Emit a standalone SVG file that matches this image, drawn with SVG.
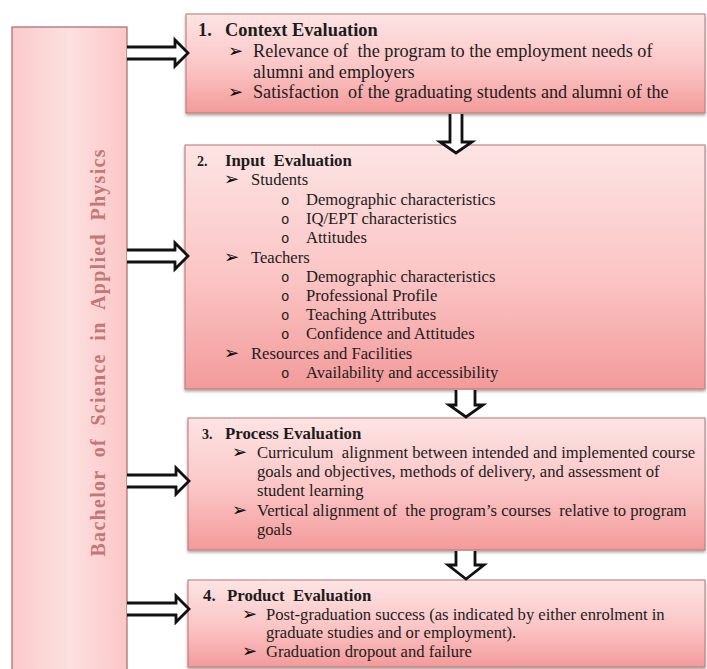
<svg xmlns="http://www.w3.org/2000/svg" width="707" height="669" viewBox="0 0 707 669">
<defs>
<linearGradient id="boxGrad" x1="0" y1="0" x2="0" y2="1">
<stop offset="0" stop-color="#fde4e4"/>
<stop offset="0.55" stop-color="#fbc4c4"/>
<stop offset="1" stop-color="#f39a9a"/>
</linearGradient>
<linearGradient id="sideGrad" x1="0" y1="0" x2="1" y2="0">
<stop offset="0" stop-color="#fbcaca"/>
<stop offset="0.5" stop-color="#fde0e0"/>
<stop offset="1" stop-color="#fbc6c6"/>
</linearGradient>
<filter id="shadow" x="-5%" y="-5%" width="110%" height="120%">
<feDropShadow dx="0" dy="2" stdDeviation="1.5" flood-color="#000" flood-opacity="0.35"/>
</filter>
</defs>
<style>
.box{fill:url(#boxGrad);stroke:#b97474;stroke-width:1;filter:url(#shadow)}
.side{fill:url(#sideGrad);stroke:#a46a6a;stroke-width:1.2}
.arrow{fill:#fff;stroke:#111;stroke-width:2.8;stroke-linejoin:miter}
text{font-family:"Liberation Serif","Times New Roman",serif;fill:#1c1c1c;white-space:pre}
.t{font-size:16.6px}
.h{font-size:16.8px;font-weight:bold}
.t1{font-size:18.2px}
.h1{font-size:18.4px;font-weight:bold}
.n{font-size:14px;font-weight:bold}
.b{font-family:"DejaVu Sans",sans-serif;font-size:18px;fill:#000}
.o{font-family:"Liberation Mono",monospace;font-size:14px}
.vt{font-size:20px;font-weight:bold;fill:#c57676}
</style>
<rect width="707" height="669" fill="#fff"/>

<g id="program">
<rect class="side" x="12" y="27" width="115" height="650"/>
<text class="vt" transform="translate(105,353) rotate(-90)" text-anchor="middle" textLength="407" lengthAdjust="spacing">Bachelor  of  Science  in  Applied  Physics</text>
</g>

<g id="context">
<rect class="box" x="186" y="14" width="519" height="99"/>
<text class="h1" x="198" y="36">1.</text>
<text class="h1" x="225" y="36">Context Evaluation</text>
<text class="b" x="228" y="57">➢</text>
<text class="t1" x="253" y="57">Relevance of  the program to the employment needs of</text>
<text class="t1" x="253" y="78">alumni and employers</text>
<text class="b" x="228" y="98">➢</text>
<text class="t1" x="253" y="98">Satisfaction  of the graduating students and alumni of the</text>
</g>

<g id="input">
<rect class="box" x="185" y="145" width="520" height="244"/>
<text class="n" x="197" y="166">2.</text>
<text class="h" x="225" y="166">Input  Evaluation</text>
<text class="b" x="224" y="185">➢</text>
<text class="t" x="251" y="185">Students</text>
<text class="o" x="281" y="205">o</text>
<text class="t" x="306" y="205">Demographic characteristics</text>
<text class="o" x="281" y="224">o</text>
<text class="t" x="306" y="224">IQ/EPT characteristics</text>
<text class="o" x="281" y="243">o</text>
<text class="t" x="306" y="243">Attitudes</text>
<text class="b" x="224" y="263">➢</text>
<text class="t" x="251" y="263">Teachers</text>
<text class="o" x="281" y="282">o</text>
<text class="t" x="306" y="282">Demographic characteristics</text>
<text class="o" x="281" y="301">o</text>
<text class="t" x="306" y="301">Professional Profile</text>
<text class="o" x="281" y="320">o</text>
<text class="t" x="306" y="320">Teaching Attributes</text>
<text class="o" x="281" y="339">o</text>
<text class="t" x="306" y="339">Confidence and Attitudes</text>
<text class="b" x="224" y="359">➢</text>
<text class="t" x="251" y="359">Resources and Facilities</text>
<text class="o" x="281" y="378">o</text>
<text class="t" x="306" y="378">Availability and accessibility</text>
</g>

<g id="process">
<rect class="box" x="188" y="418" width="517" height="132"/>
<text class="n" x="202" y="439">3.</text>
<text class="h" x="225" y="439">Process Evaluation</text>
<text class="b" x="232" y="458">➢</text>
<text class="t" x="257" y="458">Curriculum  alignment between intended and implemented course</text>
<text class="t" x="257" y="477">goals and objectives, methods of delivery, and assessment of</text>
<text class="t" x="257" y="496">student learning</text>
<text class="b" x="232" y="516">➢</text>
<text class="t" x="257" y="516">Vertical alignment of  the program’s courses  relative to program</text>
<text class="t" x="257" y="535">goals</text>
</g>

<g id="product">
<rect class="box" x="188" y="580" width="517" height="87"/>
<text class="h" x="203" y="601">4.</text>
<text class="h" x="227" y="601">Product  Evaluation</text>
<text class="b" x="242" y="620">➢</text>
<text class="t" x="266" y="620">Post-graduation success (as indicated by either enrolment in</text>
<text class="t" x="266" y="638">graduate studies and or employment).</text>
<text class="b" x="242" y="657">➢</text>
<text class="t" x="266" y="657">Graduation dropout and failure</text>
</g>

<g id="connectors">
<path class="arrow" d="M127,47 H175 V40 L188,53 L175,66 V59 H127"/>
<path class="arrow" d="M127,250 H175 V243 L188,256 L175,269 V262 H127"/>
<path class="arrow" d="M127,475 H176 V468 L189,481 L176,494 V487 H127"/>
<path class="arrow" d="M127,603 H176 V596 L189,609 L176,622 V615 H127"/>
<path class="arrow" d="M450,114 V142 H440 L456,153 L472,142 H462 V114"/>
<path class="arrow" d="M456,390 V405 H449 L466,417 L483,405 H475 V390"/>
<path class="arrow" d="M456,551 V565 H448 L466,579 L484,565 H475 V551"/>
</g>
</svg>
